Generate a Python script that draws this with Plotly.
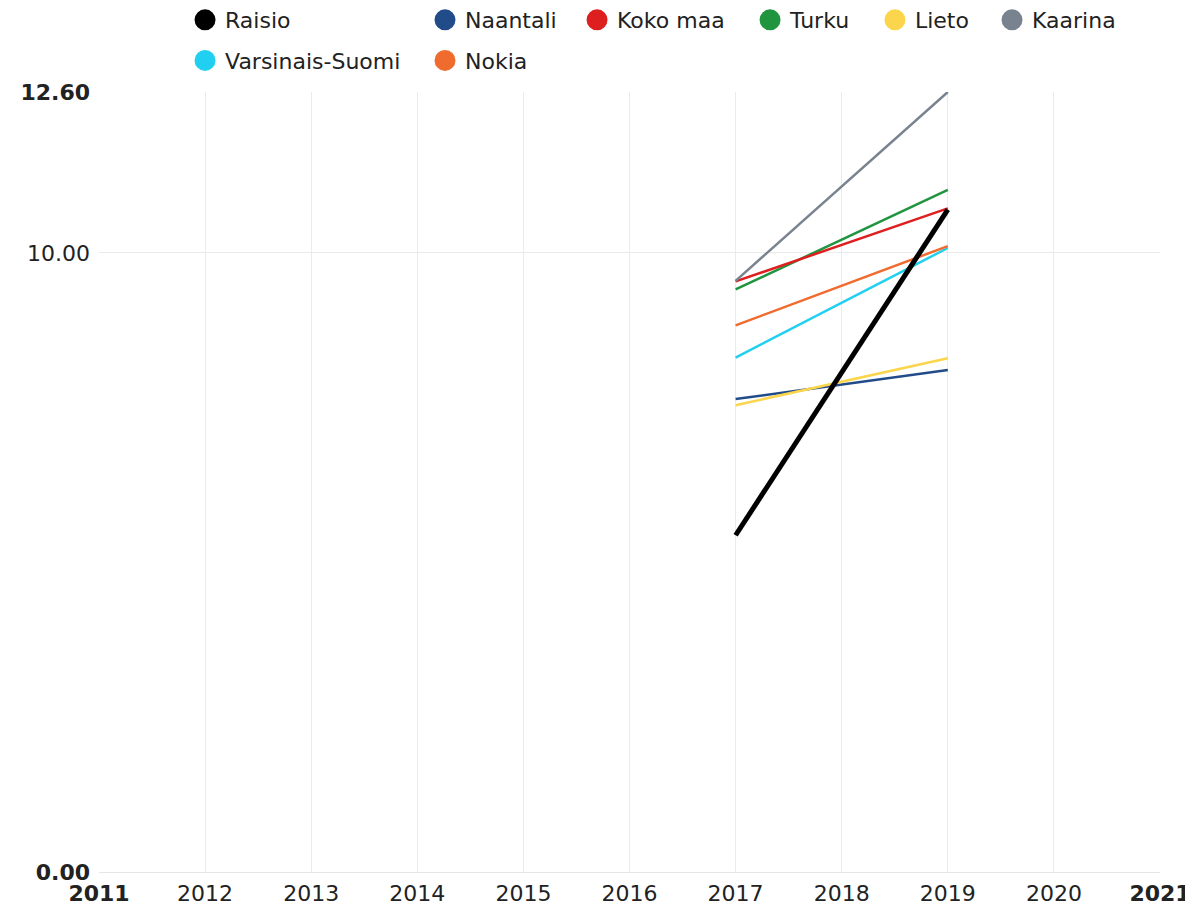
import plotly.graph_objects as go

years = [2017, 2019]
series_names = ["Raisio", "Naantali", "Koko maa", "Turku", "Lieto", "Kaarina",
                "Varsinais-Suomi", "Nokia"]
raisio = [5.44, 10.70]
naantali = [7.64, 8.11]
koko_maa = [9.54, 10.72]
turku = [9.41, 11.02]
lieto = [7.54, 8.30]
kaarina = [9.55, 12.60]
varsinais_suomi = [8.31, 10.08]
nokia = [8.83, 10.11]

x_tick_vals = list(range(2011, 2022))
x_tick_text = ["<b>2011</b>"] + [str(y) for y in range(2012, 2021)] + ["<b>2021</b>"]
y_tick_vals = [0, 10, 12.6]
y_tick_text = ["<b>0.00</b>", "10.00", "<b>12.60</b>"]

colors = {
    "Raisio": "#000000",
    "Naantali": "#214c89",
    "Koko maa": "#de1f1f",
    "Turku": "#20943f",
    "Lieto": "#fbd54b",
    "Kaarina": "#798390",
    "Varsinais-Suomi": "#21d0f0",
    "Nokia": "#f06b2e",
}
values = {
    "Raisio": raisio, "Naantali": naantali, "Koko maa": koko_maa, "Turku": turku,
    "Lieto": lieto, "Kaarina": kaarina, "Varsinais-Suomi": varsinais_suomi, "Nokia": nokia,
}
# legend column for each series
legend_of = {
    "Raisio": "legend", "Varsinais-Suomi": "legend",
    "Naantali": "legend2", "Nokia": "legend2",
    "Koko maa": "legend3", "Turku": "legend4", "Lieto": "legend5", "Kaarina": "legend6",
}

fig = go.Figure()

draw_order = ["Naantali", "Lieto", "Varsinais-Suomi", "Nokia", "Turku", "Koko maa", "Kaarina", "Raisio"]
for name in draw_order:
    fig.add_trace(go.Scatter(
        x=years, y=values[name], mode="lines", name=name,
        line=dict(color=colors[name], width=5 if name == "Raisio" else 2.5),
        showlegend=False, hoverinfo="x+y+name",
    ))

for name in series_names:
    fig.add_trace(go.Scatter(
        x=[None], y=[None], mode="markers", name=name,
        marker=dict(size=16, color=colors[name], line=dict(color=colors[name], width=5)),
        legend=legend_of[name], legendgroup=name, showlegend=True,
    ))

font = dict(family="DejaVu Sans", size=22, color="#222222")
leg_x = [0.1494, 0.3519, 0.4802, 0.6262, 0.7316, 0.8304]
leg_names = ["legend", "legend2", "legend3", "legend4", "legend5", "legend6"]
layout_legends = {}
for ln, lx in zip(leg_names, leg_x):
    layout_legends[ln] = dict(
        x=lx, xanchor="left", xref="container",
        y=1.1192, yanchor="top", yref="paper", orientation="v",
        font=font, bgcolor="rgba(0,0,0,0)", tracegroupgap=9, itemclick=False,
    )

fig.update_layout(
    width=1185, height=904,
    margin=dict(l=91, r=33, t=84, b=40, autoexpand=False),
    paper_bgcolor="white", plot_bgcolor="white",
    font=font,
    **layout_legends,
)
fig.update_xaxes(
    range=[2011, 2021], tickmode="array", tickvals=x_tick_vals, ticktext=x_tick_text,
    showgrid=True, gridcolor="#ebebeb", gridwidth=1, zeroline=False,
    showline=True, linecolor="#e6e6e6", linewidth=1, ticks="",
    ticklabelstandoff=2, tickfont=font, automargin=False,
)
fig.update_yaxes(
    range=[0, 12.6], tickmode="array", tickvals=y_tick_vals, ticktext=y_tick_text,
    showgrid=True, gridcolor="#ebebeb", gridwidth=1, zeroline=False,
    showline=False, ticks="", ticklabelstandoff=8, tickfont=font, automargin=False,
)

fig.write_html("out.html")
